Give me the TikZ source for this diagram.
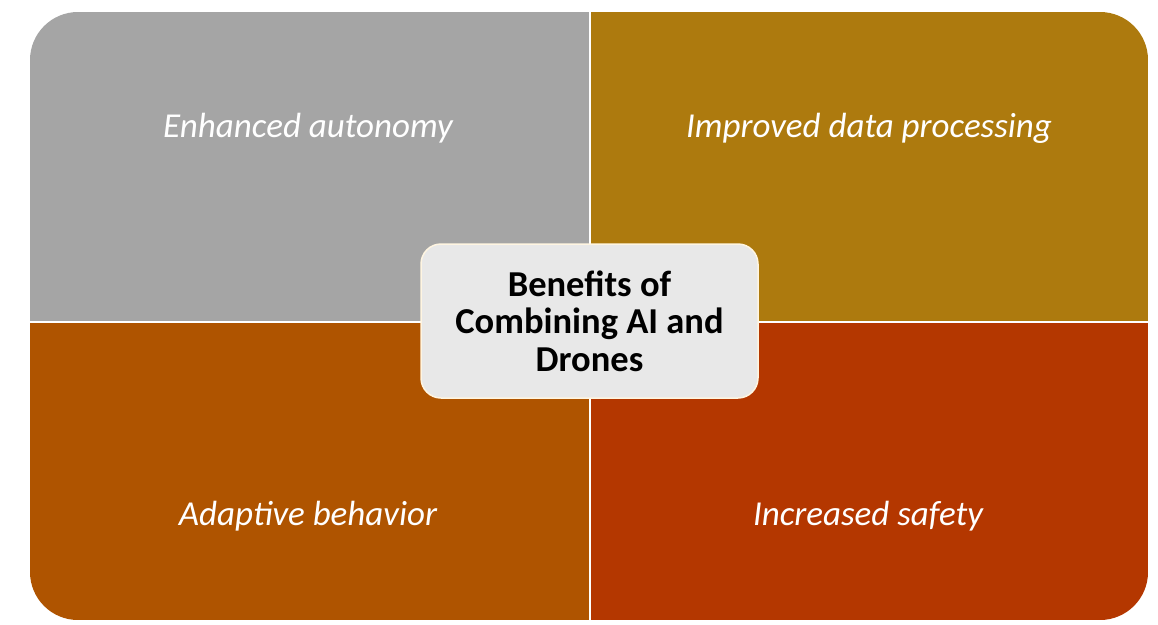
\documentclass[tikz,border=0pt]{standalone}
\usepackage{fontspec}
\setmainfont{Carlito}
\usepackage{xcolor}
\definecolor{quadgray}{RGB}{165,165,165}
\definecolor{quadgold}{RGB}{173,122,14}
\definecolor{quadorange}{RGB}{175,84,0}
\definecolor{quadred}{RGB}{180,55,0}
\definecolor{boxgray}{RGB}{232,232,232}
\definecolor{boxedge}{RGB}{255,245,225}

\begin{document}
\begin{tikzpicture}[x=1pt,y=-1pt,
  quadtext/.style={text=white, font=\fontsize{35}{40}\selectfont\itshape},
  centerbox/.style={rectangle, rounded corners=20pt, fill=boxgray, draw=boxedge,
    line width=1.5pt, minimum width=337pt, minimum height=154pt, align=center,
    inner sep=0pt, font=\fontsize{36.5}{37.5}\selectfont\bfseries}]
\useasboundingbox (0,0) rectangle (1158,624);
% four quarters inside one rounded frame
\begin{scope}
\clip[rounded corners=48pt] (30,12) rectangle (1148,620);
\fill[quadgray] (30,12) rectangle (590,322);
\fill[quadgold] (590,12) rectangle (1148,322);
\fill[quadorange] (30,322) rectangle (590,620);
\fill[quadred] (590,322) rectangle (1148,620);
\end{scope}
\draw[white, line width=1.2pt] (590,12) -- (590,620) (30,322) -- (1148,322);
\node[quadtext] (autonomy) at (308,128) {Enhanced autonomy};
\node[quadtext] (data) at (869,128) {Improved data processing};
\node[quadtext] (adaptive) at (308,516) {Adaptive behavior};
\node[quadtext] (safety) at (868,516) {Increased safety};
\node[centerbox] (benefits) at (589.5,321) {Benefits of\\ Combining AI and\\ Drones};
\end{tikzpicture}
\end{document}
